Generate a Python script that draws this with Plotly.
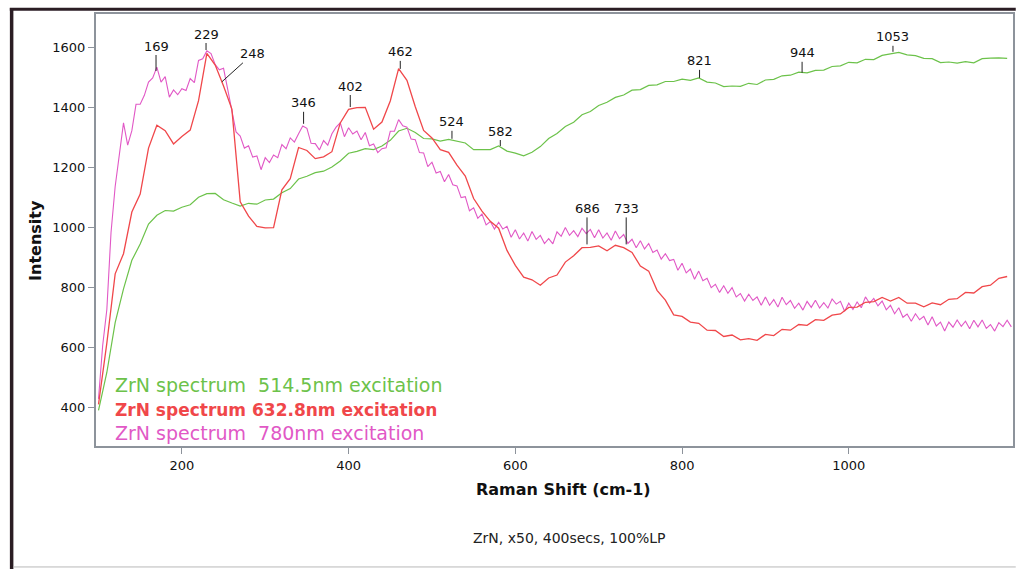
import plotly.graph_objects as go

# Raman spectra of ZrN at three excitation wavelengths
shift_fine = list(range(100, 1200, 5))      # 780 nm trace sampling (cm-1)
shift_coarse = list(range(100, 1200, 10))   # 514.5 / 632.8 nm trace sampling (cm-1)

int_780 = [430, 608, 728, 984, 1138, 1244, 1350, 1276, 1324, 1412,
           1412, 1442, 1486, 1500, 1536, 1486, 1504, 1436, 1460, 1444,
           1464, 1458, 1498, 1484, 1558, 1564, 1590, 1581, 1544, 1527,
           1532, 1462, 1396, 1320, 1306, 1266, 1274, 1236, 1240, 1194,
           1234, 1218, 1243, 1234, 1278, 1264, 1300, 1286, 1314, 1340,
           1332, 1282, 1281, 1260, 1291, 1276, 1314, 1336, 1350, 1304,
           1334, 1313, 1323, 1294, 1318, 1274, 1280, 1251, 1264, 1267,
           1322, 1322, 1361, 1340, 1336, 1296, 1294, 1251, 1250, 1204,
           1219, 1183, 1188, 1154, 1178, 1144, 1140, 1101, 1104, 1057,
           1067, 1032, 1046, 1010, 1021, 996, 1019, 996, 1005, 969,
           994, 963, 983, 956, 988, 962, 975, 948, 964, 947,
           987, 972, 1001, 975, 991, 971, 999, 981, 995, 967,
           994, 966, 983, 959, 990, 964, 978, 948, 962, 934,
           957, 930, 948, 918, 926, 896, 914, 891, 895, 859,
           882, 850, 863, 829, 856, 824, 832, 801, 812, 785,
           807, 782, 801, 770, 781, 756, 779, 758, 770, 742,
           770, 742, 761, 736, 769, 744, 758, 732, 749, 726,
           755, 735, 759, 733, 751, 733, 763, 746, 755, 722,
           749, 728, 753, 734, 770, 749, 765, 740, 756, 727,
           742, 714, 734, 702, 713, 689, 714, 694, 705, 676,
           704, 673, 686, 656, 686, 669, 693, 672, 689, 664,
           692, 670, 693, 665, 678, 656, 684, 671, 692, 670]

int_632 = [412, 616, 847, 914, 1053, 1113, 1266, 1342, 1324, 1280,
           1305, 1326, 1424, 1582, 1543, 1473, 1396, 1087, 1039, 1005,
           1000, 1001, 1127, 1164, 1268, 1258, 1231, 1237, 1254, 1350,
           1395, 1401, 1402, 1329, 1353, 1423, 1531, 1492, 1404, 1325,
           1300, 1261, 1252, 1209, 1173, 1098, 1056, 1022, 999, 925,
           875, 836, 827, 809, 833, 843, 886, 907, 934, 935,
           940, 924, 942, 934, 918, 873, 856, 792, 759, 710,
           705, 686, 682, 659, 658, 638, 643, 627, 631, 625,
           645, 641, 662, 659, 678, 675, 694, 692, 709, 713,
           735, 736, 752, 754, 768, 756, 768, 749, 749, 737,
           750, 744, 762, 764, 785, 783, 804, 809, 832, 838]

int_514 = [392, 518, 684, 797, 892, 946, 1013, 1042, 1058, 1056,
           1069, 1077, 1102, 1114, 1115, 1094, 1083, 1073, 1082, 1079,
           1093, 1096, 1117, 1131, 1163, 1172, 1184, 1189, 1203, 1223,
           1249, 1255, 1264, 1261, 1273, 1292, 1323, 1332, 1318, 1298,
           1297, 1289, 1295, 1290, 1283, 1261, 1261, 1261, 1273, 1256,
           1249, 1240, 1252, 1271, 1298, 1315, 1338, 1352, 1377, 1388,
           1408, 1419, 1435, 1443, 1459, 1461, 1475, 1477, 1488, 1488,
           1496, 1492, 1500, 1486, 1483, 1471, 1473, 1472, 1482, 1478,
           1493, 1495, 1507, 1509, 1519, 1517, 1525, 1526, 1538, 1540,
           1552, 1550, 1562, 1561, 1575, 1579, 1585, 1577, 1574, 1565,
           1564, 1551, 1553, 1549, 1554, 1550, 1564, 1566, 1567, 1565]

# Labelled band positions (cm-1) and the intensity where each marker meets its trace
peak_pos = [169, 229, 248, 346, 402, 462, 524, 582, 686, 733, 821, 944, 1053]
peak_int = [1523, 1593, 1487, 1347, 1403, 1530, 1297, 1273, 945, 945, 1500, 1517, 1587]

series_names = ["ZrN spectrum  514.5nm excitation",
                "ZrN spectrum 632.8nm excitation",
                "ZrN spectrum  780nm excitation"]

GREEN = "#6cc24a"
RED = "#f0474a"
PINK = "#e158c6"

fig = go.Figure()
fig.add_trace(go.Scatter(x=shift_coarse, y=int_514, mode="lines", name=series_names[0],
                         line=dict(color=GREEN, width=1.2)))
fig.add_trace(go.Scatter(x=shift_fine, y=int_780, mode="lines", name=series_names[2],
                         line=dict(color=PINK, width=1.1)))
fig.add_trace(go.Scatter(x=shift_coarse, y=int_632, mode="lines", name=series_names[1],
                         line=dict(color=RED, width=1.3)))

# Peak markers: short leader line with the band position written above
offsets = {169: (0, -25), 229: (0, -16), 248: (31, -28), 346: (0, -21), 402: (0, -21),
           462: (0, -17), 524: (0, -17), 582: (0, -15), 686: (0, -36), 733: (0, -36),
           821: (0, -17), 944: (0, -20), 1053: (0, -15)}
for pos, val in zip(peak_pos, peak_int):
    ax, ay = offsets[pos]
    fig.add_annotation(x=pos, y=val, text=str(pos), showarrow=True, arrowhead=0,
                       arrowwidth=1, arrowcolor="#222222", ax=ax, ay=ay, standoff=0,
                       borderpad=1, font=dict(family="DejaVu Sans", size=13, color="#111111"))

# Coloured series captions inside the plot
legend_y = [0.141, 0.083, 0.030]
legend_colors = [GREEN, RED, PINK]
legend_text = [series_names[0], "<b>" + series_names[1] + "</b>", series_names[2]]
legend_size = [19, 17, 19]
for txt, yy, col, sz in zip(legend_text, legend_y, legend_colors, legend_size):
    fig.add_annotation(x=0.018, y=yy, xref="paper", yref="paper", text=txt,
                       showarrow=False, xanchor="left", yanchor="middle",
                       font=dict(family="DejaVu Sans", size=sz, color=col))

# Axis titles and acquisition note
fig.add_annotation(x=0.510, y=-0.127, xref="paper", yref="paper", text="<b>Raman Shift (cm-1)</b>",
                   showarrow=False, font=dict(family="DejaVu Sans", size=16, color="#111111"))
fig.add_annotation(x=-0.078, y=0.477, xref="paper", yref="paper", text="<b>Intensity</b>",
                   showarrow=False, textangle=-90,
                   font=dict(family="DejaVu Sans", size=16, color="#111111"))
fig.add_annotation(x=0.516, y=-0.236, xref="paper", yref="paper", text="ZrN, x50, 400secs, 100%LP",
                   showarrow=False, font=dict(family="DejaVu Sans", size=14, color="#222222"))

# Outer window frame
fig.add_shape(type="line", xref="paper", yref="paper", x0=-0.094, x1=1.003, y0=1.011, y1=1.011,
              line=dict(color="#2b1d24", width=3))
fig.add_shape(type="line", xref="paper", yref="paper", x0=-0.092, x1=-0.092, y0=1.014, y1=-0.29,
              line=dict(color="#2b1d24", width=3.5))
fig.add_shape(type="line", xref="paper", yref="paper", x0=-0.09, x1=1.003, y0=-0.280, y1=-0.280,
              line=dict(color="#b8b8b8", width=1))

axis_style = dict(showline=True, linecolor="#8d939b", linewidth=2, mirror=True,
                  showgrid=False, zeroline=False, ticks="outside", ticklen=6,
                  tickcolor="#8d939b", tickwidth=1,
                  tickfont=dict(family="DejaVu Sans", size=13, color="#111111"))

fig.update_xaxes(range=[97, 1197], tickvals=[200, 400, 600, 800, 1000], **axis_style)
fig.update_yaxes(range=[273, 1713], tickvals=[400, 600, 800, 1000, 1200, 1400, 1600], **axis_style)

fig.update_layout(width=1017, height=569, showlegend=False,
                  margin=dict(l=96, r=2, t=14, b=123, pad=0),
                  paper_bgcolor="white", plot_bgcolor="white")

fig.write_html("out.html")
